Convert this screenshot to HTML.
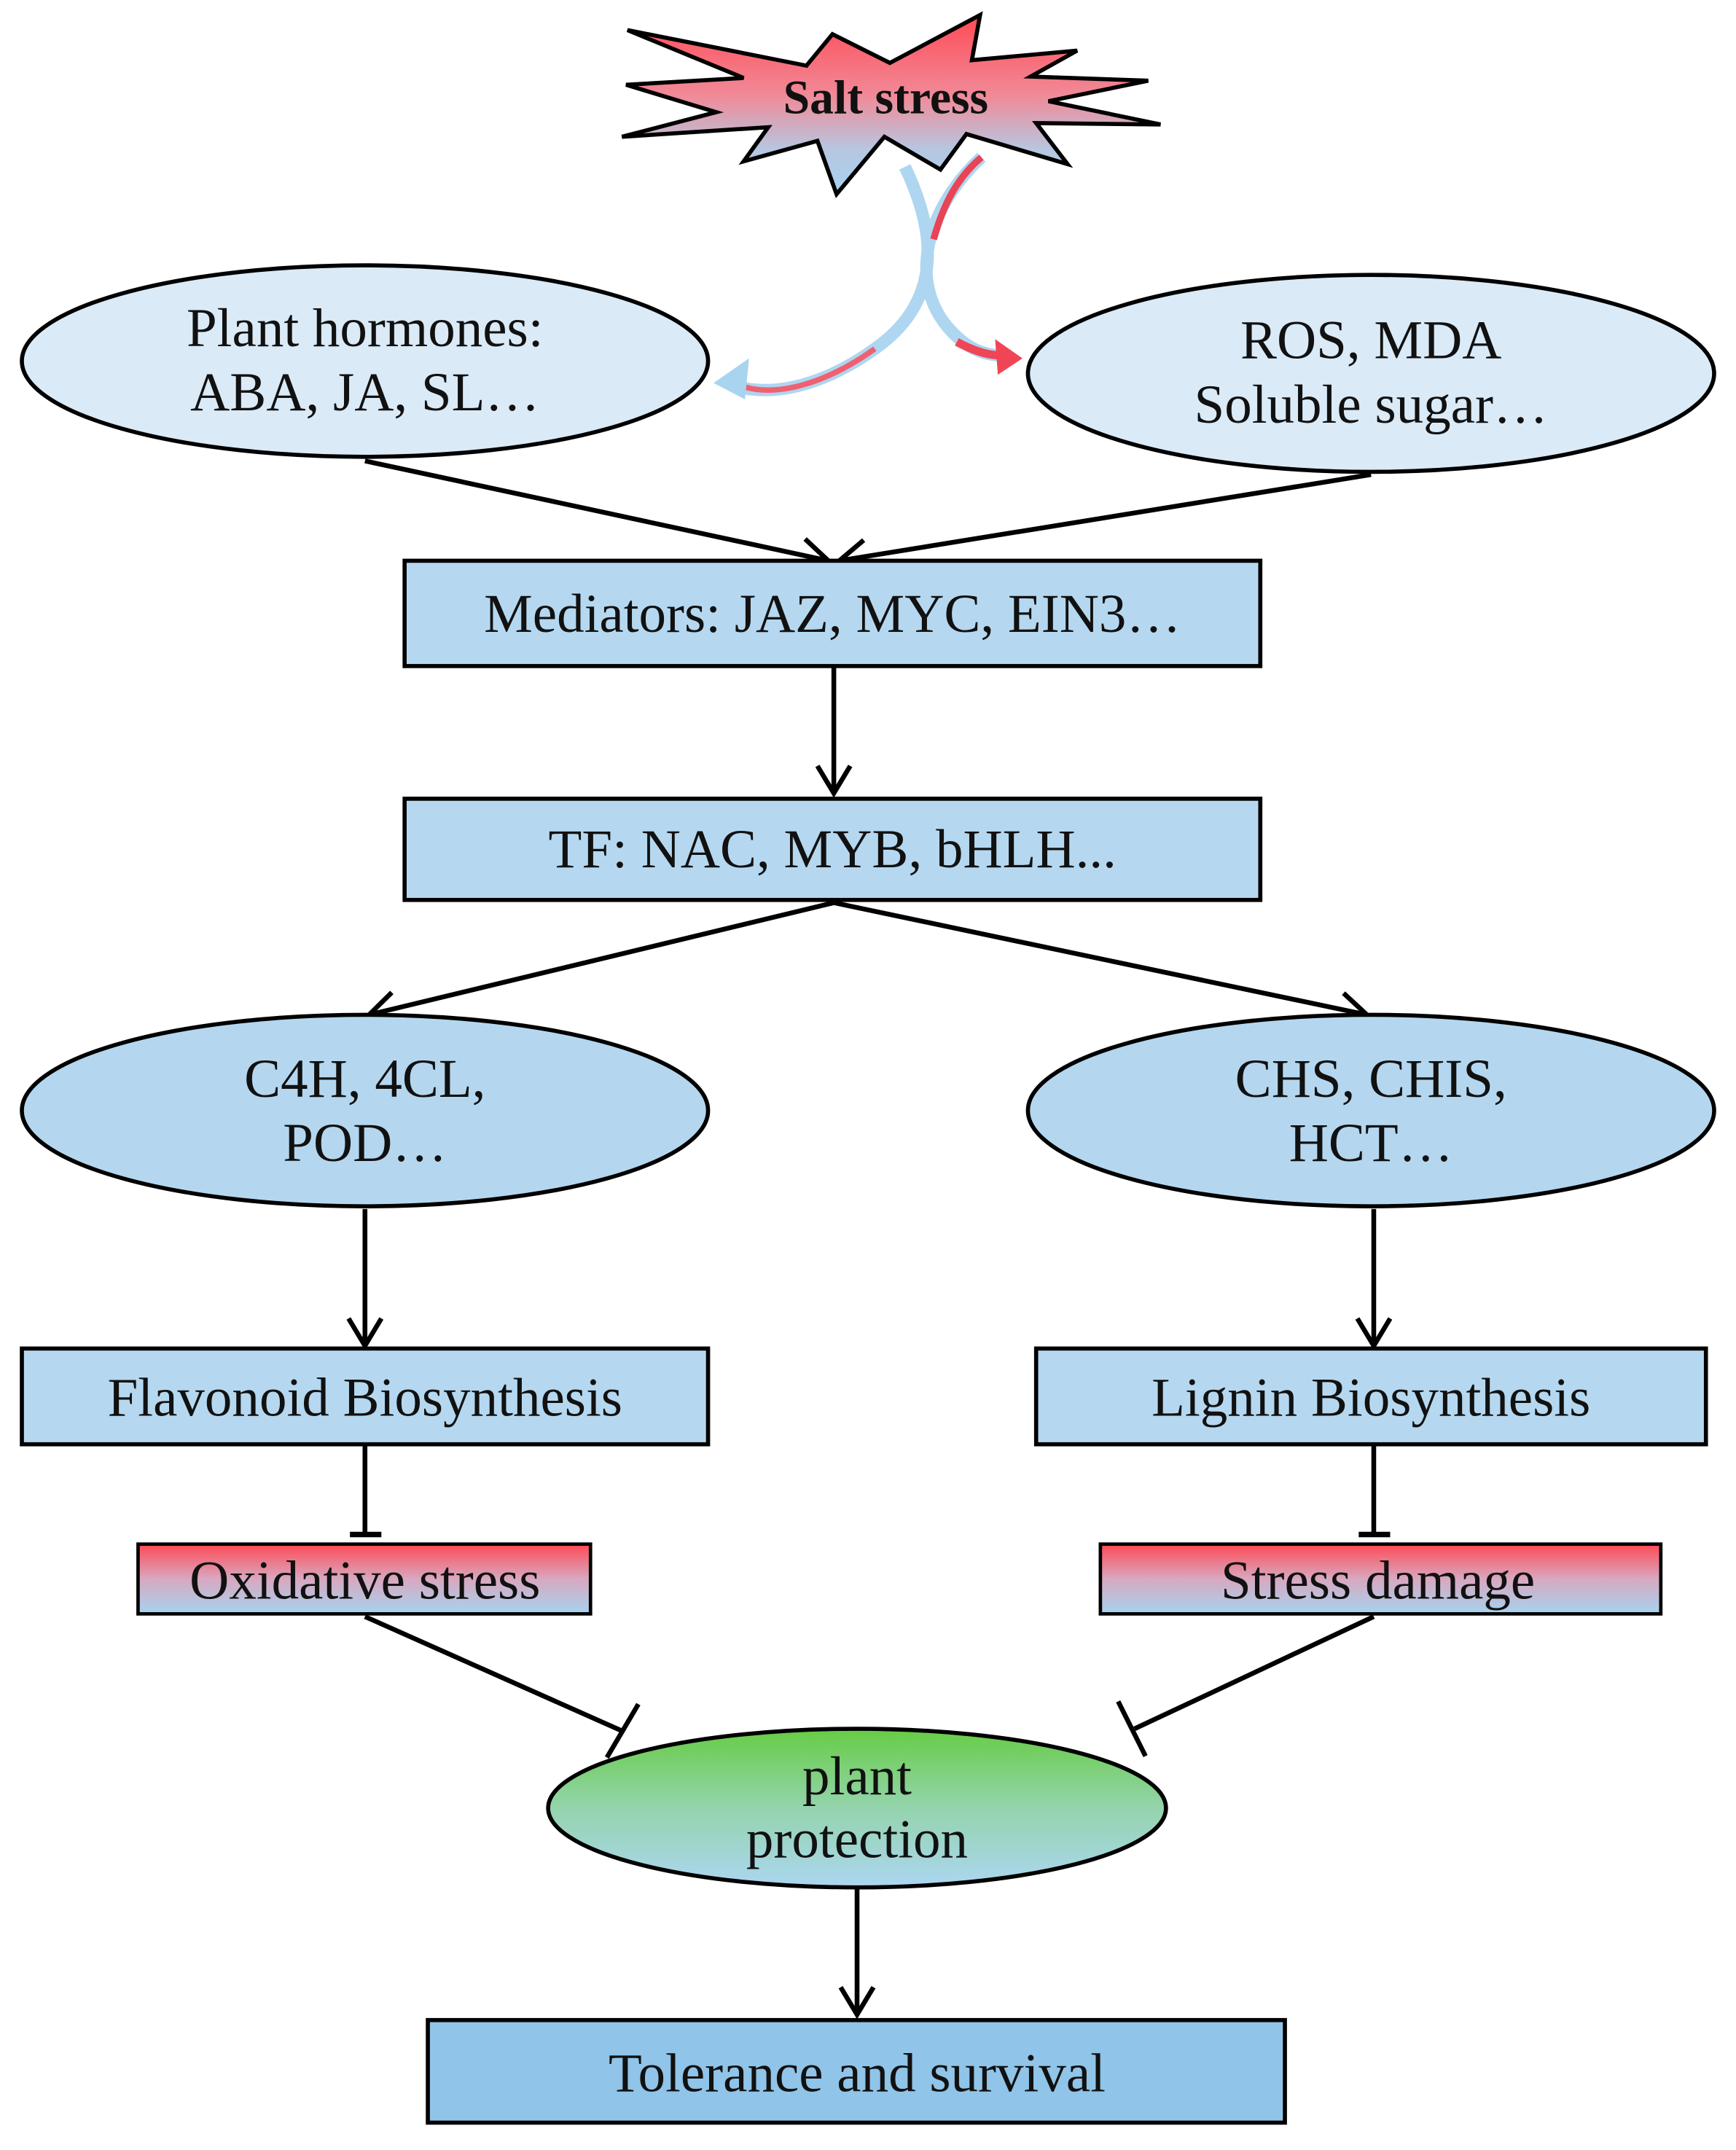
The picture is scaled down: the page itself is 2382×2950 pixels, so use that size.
<!DOCTYPE html>
<html><head><meta charset="utf-8"><style>
html,body{margin:0;padding:0;background:#fff;}
svg{display:block;}
text{font-family:"Liberation Serif",serif;fill:#111;}
</style></head><body>
<svg width="2382" height="2950" viewBox="0 0 1270 1572" preserveAspectRatio="none" xmlns="http://www.w3.org/2000/svg">
<defs>
<linearGradient id="rb" x1="0" y1="0" x2="0" y2="1">
<stop offset="0" stop-color="#ff4a55"/><stop offset="0.45" stop-color="#f18a98"/><stop offset="0.75" stop-color="#b7c6e0"/><stop offset="1" stop-color="#a6d3ef"/></linearGradient>
<linearGradient id="rb2" x1="0" y1="0" x2="0" y2="1">
<stop offset="0" stop-color="#ff4a55"/><stop offset="0.5" stop-color="#d8a8c0"/><stop offset="1" stop-color="#a6d3ef"/></linearGradient>
<linearGradient id="gb" x1="0" y1="0" x2="0" y2="1">
<stop offset="0" stop-color="#66cc44"/><stop offset="0.5" stop-color="#94d4ad"/><stop offset="1" stop-color="#acd6f2"/></linearGradient>
<marker id="ar" markerWidth="30" markerHeight="30" refX="24" refY="15" orient="auto" markerUnits="userSpaceOnUse">
<path d="M4,3 L24,15 L4,27" fill="none" stroke="#000" stroke-width="3.5"/></marker>
</defs>

<polygon points="459,22 590,48 609,25 651,46 717,11 711,44 788,37 754,56 840,59 767,74 849,91 758,90 781,120 707,98 688,124 647,100 612,142 598,103 544,118 562,93 455,100 524,82 458,62 544,57" fill="url(#rb)" stroke="#000" stroke-width="3"/>
<text x="648" y="83" font-size="35" font-weight="bold" text-anchor="middle">Salt stress</text>

<path d="M662,122 C685,170 690,220 640,255 C605,280 570,290 540,283" fill="none" stroke="#aed6f0" stroke-width="9"/>
<path d="M640,255 C605,280 570,290 545,283" fill="none" stroke="#f06070" stroke-width="4"/>
<polygon points="522,280 548,262 545,292" fill="#a8d4f0"/>
<path d="M718,115 C680,150 665,200 690,235 C705,255 720,260 735,260" fill="none" stroke="#aed6f0" stroke-width="9"/>
<path d="M718,115 C700,130 690,150 683,175" fill="none" stroke="#e84455" stroke-width="5"/>
<path d="M700,250 C715,258 725,260 735,260" fill="none" stroke="#f04555" stroke-width="6"/>
<polygon points="748,262 728,248 730,274" fill="#f04555"/>

<ellipse cx="267" cy="264" rx="251" ry="70" fill="#daeaf7" stroke="#000" stroke-width="3"/>
<text x="267" y="253" font-size="40" text-anchor="middle">Plant hormones:</text>
<text x="267" y="300" font-size="40" text-anchor="middle">ABA, JA, SL…</text>
<ellipse cx="1003" cy="273" rx="251" ry="72" fill="#daeaf7" stroke="#000" stroke-width="3"/>
<text x="1003" y="262" font-size="40" text-anchor="middle">ROS, MDA</text>
<text x="1003" y="309" font-size="40" text-anchor="middle">Soluble sugar…</text>

<line x1="267" y1="337" x2="606" y2="410" stroke="#000" stroke-width="3.5" marker-end="url(#ar)"/>
<line x1="1003" y1="347" x2="614" y2="410" stroke="#000" stroke-width="3.5" marker-end="url(#ar)"/>

<rect x="296" y="410" width="626" height="77" fill="#b5d8f0" stroke="#000" stroke-width="3"/>
<text x="609" y="462" font-size="40" text-anchor="middle">Mediators: JAZ, MYC, EIN3…</text>
<line x1="610" y1="487" x2="610" y2="580" stroke="#000" stroke-width="3.5" marker-end="url(#ar)"/>

<rect x="296" y="584" width="626" height="74" fill="#b5d8f0" stroke="#000" stroke-width="3"/>
<text x="609" y="634" font-size="40" text-anchor="middle">TF: NAC, MYB, bHLH...</text>

<line x1="610" y1="660" x2="270" y2="742" stroke="#000" stroke-width="3.5" marker-end="url(#ar)"/>
<line x1="610" y1="660" x2="1000" y2="742" stroke="#000" stroke-width="3.5" marker-end="url(#ar)"/>

<ellipse cx="267" cy="812" rx="251" ry="70" fill="#b4d7ef" stroke="#000" stroke-width="3"/>
<text x="267" y="802" font-size="40" text-anchor="middle">C4H, 4CL,</text>
<text x="267" y="849" font-size="40" text-anchor="middle">POD…</text>
<ellipse cx="1003" cy="812" rx="251" ry="70" fill="#b4d7ef" stroke="#000" stroke-width="3"/>
<text x="1003" y="802" font-size="40" text-anchor="middle">CHS, CHIS,</text>
<text x="1003" y="849" font-size="40" text-anchor="middle">HCT…</text>

<line x1="267" y1="884" x2="267" y2="984" stroke="#000" stroke-width="3.5" marker-end="url(#ar)"/>
<line x1="1005" y1="884" x2="1005" y2="984" stroke="#000" stroke-width="3.5" marker-end="url(#ar)"/>

<rect x="16" y="986" width="502" height="70" fill="#b5d8f0" stroke="#000" stroke-width="3"/>
<text x="267" y="1035" font-size="40" text-anchor="middle">Flavonoid Biosynthesis</text>
<rect x="758" y="986" width="490" height="70" fill="#b5d8f0" stroke="#000" stroke-width="3"/>
<text x="1003" y="1035" font-size="40" text-anchor="middle">Lignin Biosynthesis</text>

<line x1="267" y1="1056" x2="267" y2="1122" stroke="#000" stroke-width="3.5"/>
<line x1="256" y1="1122" x2="279" y2="1122" stroke="#000" stroke-width="4"/>
<line x1="1005" y1="1056" x2="1005" y2="1122" stroke="#000" stroke-width="3.5"/>
<line x1="994" y1="1122" x2="1017" y2="1122" stroke="#000" stroke-width="4"/>

<rect x="101" y="1129" width="331" height="51" fill="url(#rb2)" stroke="#000" stroke-width="2.5"/>
<text x="267" y="1169" font-size="40" text-anchor="middle">Oxidative stress</text>
<rect x="805" y="1129" width="410" height="51" fill="url(#rb2)" stroke="#000" stroke-width="2.5"/>
<text x="1008" y="1169" font-size="40" text-anchor="middle">Stress damage</text>

<line x1="267" y1="1182" x2="456" y2="1266" stroke="#000" stroke-width="3.5"/>
<line x1="467" y1="1246" x2="444" y2="1285" stroke="#000" stroke-width="3.5"/>
<line x1="1005" y1="1182" x2="830" y2="1264" stroke="#000" stroke-width="3.5"/>
<line x1="818" y1="1244" x2="838" y2="1284" stroke="#000" stroke-width="3.5"/>

<ellipse cx="627" cy="1322" rx="226" ry="58" fill="url(#gb)" stroke="#000" stroke-width="3"/>
<text x="627" y="1312" font-size="40" text-anchor="middle">plant</text>
<text x="627" y="1358" font-size="40" text-anchor="middle">protection</text>

<line x1="627" y1="1380" x2="627" y2="1473" stroke="#000" stroke-width="3.5" marker-end="url(#ar)"/>

<rect x="313" y="1477" width="627" height="75" fill="#90c4e8" stroke="#000" stroke-width="3"/>
<text x="627" y="1529" font-size="40" text-anchor="middle">Tolerance and survival</text>
</svg>
</body></html>
